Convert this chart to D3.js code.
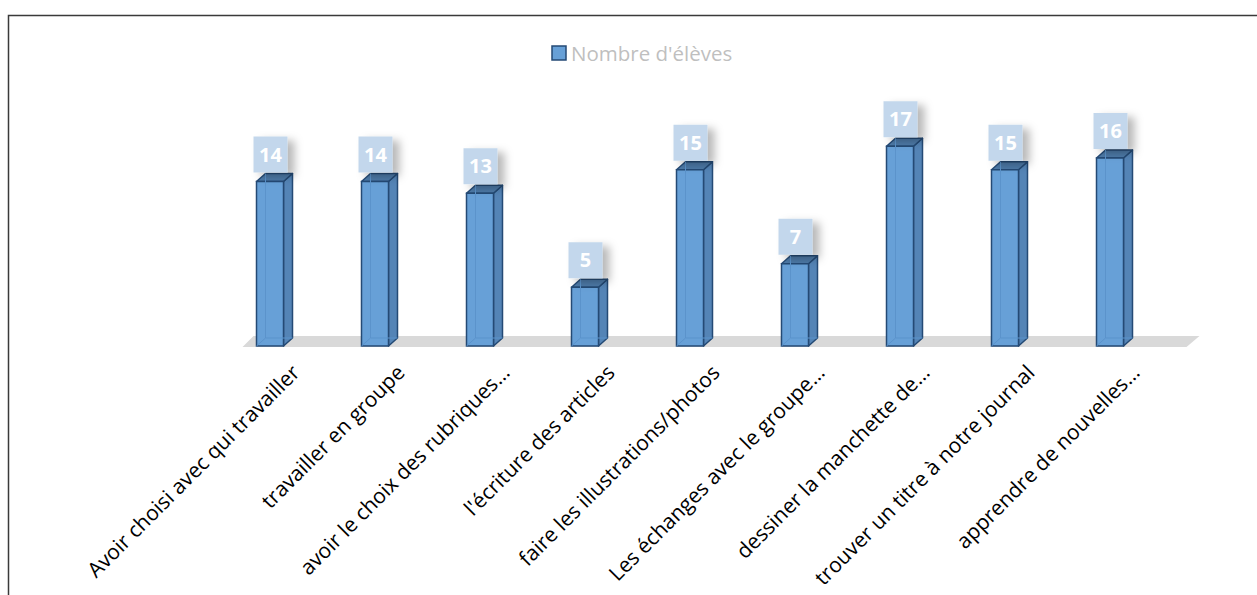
<!DOCTYPE html>
<html><head><meta charset="utf-8">
<script src="https://cdn.jsdelivr.net/npm/d3@7"></script>
<style>body{margin:0;background:#fff}svg{display:block}</style>
</head><body>
<script>
const categories = ["Avoir choisi avec qui travailler","travailler en groupe","avoir le choix des rubriques…","l'écriture des articles","faire les illustrations/photos","Les échanges avec le groupe…","dessiner la manchette de…","trouver un titre à notre journal","apprendre de nouvelles…"];
const values = [14,14,13,5,15,7,17,15,16];
const seriesName = "Nombre d'élèves";

const W=1257,H=595;
const svg=d3.select("body").append("svg").attr("width",W).attr("height",H);
const defs=svg.append("defs");
const f=defs.append("filter").attr("id","sh").attr("x","-50%").attr("y","-50%").attr("width","200%").attr("height","200%");
f.append("feDropShadow").attr("dx",7).attr("dy",4).attr("stdDeviation",4).attr("flood-color","#000").attr("flood-opacity",0.28);

// frame
svg.append("path").attr("d","M8.5,595 L8.5,15.5 L1257,15.5").attr("fill","none").attr("stroke","#3a3a3a").attr("stroke-width",1.5);

const x=d3.scaleBand().domain(categories).range([217.5,1162.5]);
const y=d3.scaleLinear().domain([0,18]).range([346,134.5]);
const bw=27, dx=9, dy=8;

// floor
const y0=y(0);
svg.append("path").attr("d",`M${x.range()[0]+25},${y0+1} L${x.range()[1]+24},${y0+1} L${x.range()[1]+37},${y0-10} L${x.range()[0]+36},${y0-10} Z`).attr("fill","#d9d9d9");

const g=svg.append("g");
values.forEach((v,i)=>{
  const c=categories[i];
  const cx=x(c)+x.bandwidth()/2;
  const xl=cx-bw/2, xr=cx+bw/2, yt=y(v), yb=y(0);
  const bar=g.append("g");
  bar.append("path").attr("d",`M${xr},${yb} L${xr+dx},${yb-dy} L${xr+dx},${yt-dy} L${xr},${yt} Z`).attr("fill","#5484b6").attr("stroke","#244a75").attr("stroke-width",1.5).attr("stroke-linejoin","round");
  bar.append("path").attr("d",`M${xl},${yt} L${xl+dx},${yt-dy} L${xr+dx},${yt-dy} L${xr},${yt} Z`).attr("fill","#4d7aa8").attr("stroke","#244a75").attr("stroke-width",1.5).attr("stroke-linejoin","round");
  bar.append("rect").attr("x",xl).attr("y",yt).attr("width",bw).attr("height",yb-yt).attr("fill","#67a0d7").attr("stroke","#244a75").attr("stroke-width",1.5);
  bar.append("path").attr("d",`M${xl+dx},${yt-dy} L${xl+dx},${yb-dy} M${xl},${yb} L${xl+dx},${yb-dy} L${xr+dx},${yb-dy}`).attr("fill","none").attr("stroke","#5b93cb").attr("stroke-width",1);
  const bxw=34,bxh=36;
  const bx=cx-bw/2-3, byb=yt-dy-1;
  svg.append("rect").attr("x",bx).attr("y",byb-bxh).attr("width",bxw).attr("height",bxh).attr("fill","#c3d7ec").attr("filter","url(#sh)");
  svg.append("text").attr("x",bx+bxw/2).attr("y",byb-bxh/2).attr("dy","0.36em").attr("text-anchor","middle")
    .attr("font-family","'Open Sans', sans-serif").attr("font-weight","bold").attr("font-size",20).attr("fill","#fff").text(v);
  svg.append("text").attr("transform",`translate(${cx+31},${374}) rotate(-45)`).attr("text-anchor","end")
    .attr("font-family","'Open Sans', sans-serif").attr("font-size",21).attr("fill","#000").text(c);
});

const lg=svg.append("g");
lg.append("rect").attr("x",552).attr("y",46).attr("width",14).attr("height",14).attr("fill","#67a0d7").attr("stroke","#244a75").attr("stroke-width",1.5);
lg.append("text").attr("x",571).attr("y",61).attr("font-family","'Open Sans', sans-serif").attr("font-size",20.5).attr("fill","#bfbfbf").text(seriesName);
</script>
</body></html>
